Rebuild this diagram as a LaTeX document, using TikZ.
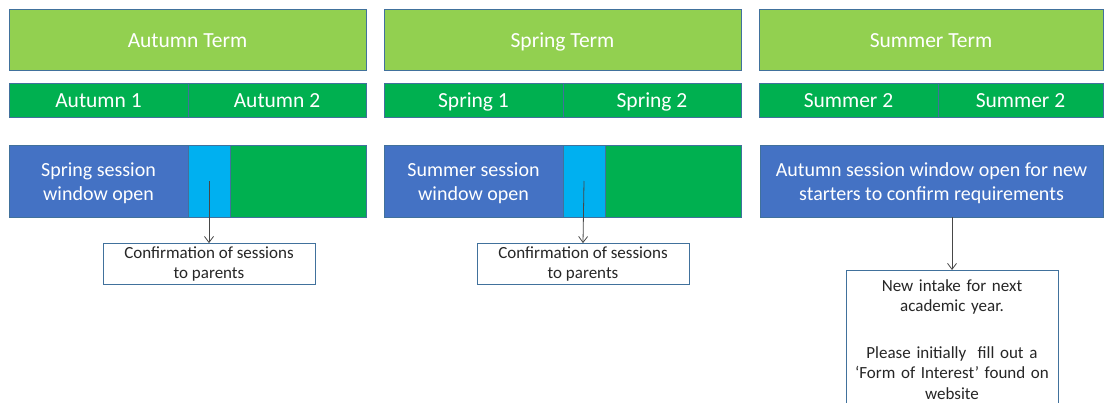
\documentclass[tikz,border=0pt]{standalone}
\usepackage{fontspec}
\setmainfont{Carlito}
\usetikzlibrary{arrows.meta}
\definecolor{termgreen}{HTML}{92D050}
\definecolor{halfgreen}{HTML}{00B050}
\definecolor{sessblue}{HTML}{4472C4}
\definecolor{lightblue}{HTML}{00B0F0}
\definecolor{edgeblue}{HTML}{41719C}
\definecolor{txtgray}{HTML}{262626}
\tikzset{
  base/.style={rectangle, draw=edgeblue, line width=0.8pt, inner sep=0pt, text=white},
  term/.style={base, fill=termgreen, minimum height=61pt, text height=17pt, text depth=2pt, font=\fontsize{21.5}{26}\selectfont},
  half/.style={base, fill=halfgreen, minimum height=34pt, text height=16pt, text depth=1.5pt, font=\fontsize{21.5}{26}\selectfont},
  sess/.style={base, fill=sessblue, minimum height=72pt},
  sesstext/.style={text=white, inner sep=0pt, align=center, font=\fontsize{20}{24}\selectfont},
  conf/.style={base, fill=lightblue, minimum height=72pt},
  rest/.style={base, fill=halfgreen, minimum height=72pt},
  note/.style={rectangle, draw=edgeblue, line width=0.8pt, fill=white, text=txtgray, align=center, font=\fontsize{17}{20.5}\selectfont},
  link/.style={draw=txtgray!85, line width=0.8pt, -{Straight Barb[length=6pt,width=9pt]}}
}
\begin{document}
\begin{tikzpicture}[x=1pt,y=-1pt]
\useasboundingbox (0,0) rectangle (1104,402);
\clip (0,0) rectangle (1104,402);
% term headers
\node[term, minimum width=357pt] (t1) at (187.5,39.75) {Autumn Term};
\node[term, minimum width=357pt] (t2) at (562.5,39.75) {Spring Term};
\node[term, minimum width=344pt] (t3) at (931,39.75) {Summer Term};
% halves
\node[half, minimum width=179pt] (a1) at (98.5,100) {Autumn 1};
\node[half, minimum width=178pt] (a2) at (277,100) {Autumn 2};
\node[half, minimum width=179pt] (s1) at (473.5,100) {Spring 1};
\node[half, minimum width=178pt] (s2) at (652,100) {Spring 2};
\node[half, minimum width=179pt] (u1) at (848.5,100) {Summer 2};
\node[half, minimum width=165pt] (u2) at (1020.5,100) {Summer 2};
% session bars
\node[sess, minimum width=179pt] (w1) at (98.5,181) {};
\node[sesstext] (w1t) at (98.5,183) {Spring session\\window open};
\node[conf, minimum width=42pt] (c1) at (209,181) {};
\node[rest, minimum width=136pt] (r1) at (298,181) {};
\node[sess, minimum width=179pt] (w2) at (473.5,181) {};
\node[sesstext] (w2t) at (473.5,183) {Summer session\\window open};
\node[conf, minimum width=42pt] (c2) at (584,181) {};
\node[rest, minimum width=136pt] (r2) at (673,181) {};
\node[sess, minimum width=343pt] (w3) at (931.5,181) {};
\node[sesstext] (w3t) at (931.5,183) {Autumn session window open for new\\starters to confirm requirements};
% notes
\node[note, minimum width=212pt, minimum height=41pt, inner sep=0pt] (n1) at (209,264) {Confirmation of sessions\\to parents};
\node[note, minimum width=212pt, minimum height=41pt, inner sep=0pt] (n2) at (583,264) {Confirmation of sessions\\to parents};
\node[note, anchor=north, text width=200pt, inner xsep=6pt, inner ysep=9pt] (n3) at (952,270) {New intake for next\\academic year.\\[26pt]Please initially\ \ fill out a\\‘Form of Interest’ found on\\website\\[8pt]};
% connectors
\draw[link] (c1.center) -- (n1.north);
\draw[link] (c2.center) -- (n2.north);
\coordinate (w3out) at (n3.north |- w3.south);
\draw[link] (w3out) -- (n3.north);
\end{tikzpicture}
\end{document}
